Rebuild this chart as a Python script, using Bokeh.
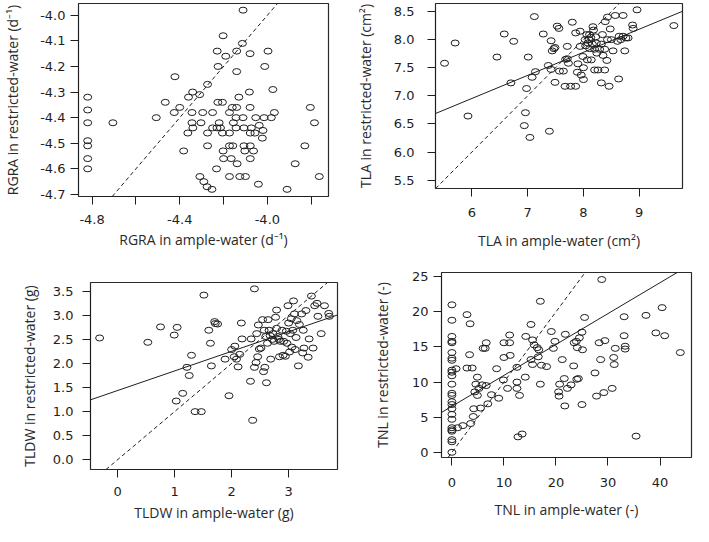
from bokeh.plotting import figure
from bokeh.models import Range1d, FixedTicker, PrintfTickFormatter, Slope
from bokeh.layouts import column, row
from bokeh.embed import file_html
from bokeh.resources import INLINE

# ---------------- data ----------------
rgra_ample = [-4.82, -4.82, -4.82, -4.82, -4.82, -4.82, -4.82,
              -4.705, -4.507, -4.466, -4.422, -4.425, -4.40, -4.382, -4.363, -4.36, -4.341,
              -4.344, -4.344, -4.34, -4.309, -4.303, -4.295, -4.308, -4.29, -4.275, -4.253,
              -4.273, -4.273, -4.273, -4.25, -4.25, -4.232, -4.229, -4.226, -4.225, -4.23,
              -4.22, -4.214, -4.205, -4.205, -4.202, -4.202, -4.20, -4.19, -4.173, -4.173,
              -4.173, -4.173, -4.158, -4.165, -4.16, -4.155, -4.143, -4.143, -4.14, -4.14,
              -4.14, -4.138, -4.13, -4.126, -4.114, -4.111, -4.111, -4.107, -4.107, -4.103,
              -4.10, -4.082, -4.079, -4.079, -4.078, -4.078, -4.078, -4.073, -4.063, -4.056,
              -4.041, -4.053, -4.037, -4.023, -4.015, -4.012, -3.997, -3.982, -3.975, -3.968,
              -4.02, -3.91, -3.873, -3.829, -3.804, -3.785, -3.763]
rgra_restricted = [-4.32, -4.37, -4.42, -4.49, -4.51, -4.56, -4.60,
                   -4.42, -4.40, -4.34, -4.24, -4.38, -4.36, -4.53, -4.46, -4.32, -4.30,
                   -4.38, -4.42, -4.44, -4.31, -4.42, -4.38, -4.63, -4.65, -4.67, -4.68,
                   -4.27, -4.46, -4.51, -4.38, -4.44, -4.60, -4.14, -4.34, -4.20, -4.44,
                   -4.42, -4.44, -4.34, -4.46, -4.08, -4.53, -4.56, -4.16, -4.63, -4.38,
                   -4.46, -4.51, -4.51, -4.56, -4.36, -4.42, -4.44, -4.40, -4.14, -4.22,
                   -4.36, -4.58, -4.32, -4.63, -4.11, -3.98, -4.40, -4.44, -4.51, -4.53,
                   -4.63, -4.30, -4.15, -4.36, -4.46, -4.51, -4.56, -4.44, -4.53, -4.46,
                   -4.66, -4.40, -4.43, -4.48, -4.40, -4.20, -4.14, -4.40, -4.29, -4.38,
                   -4.45, -4.68, -4.58, -4.51, -4.36, -4.42, -4.63]

tla_ample = [5.51, 5.70, 5.93, 6.45, 6.58, 6.75, 6.70, 6.96, 6.94, 6.98,
             7.01, 7.04, 7.08, 7.12, 7.14, 7.28, 7.37, 7.39, 7.42, 7.42,
             7.44, 7.49, 7.47, 7.49, 7.53, 7.56, 7.57, 7.64, 7.68, 7.71,
             7.71, 7.67, 7.73, 7.77, 7.80, 7.86, 7.86, 7.90, 7.89, 7.94,
             7.94, 7.96, 7.99, 8.00, 8.00, 8.03, 8.04, 8.06, 8.07, 8.08,
             8.10, 8.11, 8.13, 8.14, 8.16, 8.17, 8.18, 8.20, 8.20, 8.22,
             8.23, 8.24, 8.26, 8.29, 8.32, 8.32, 8.34, 8.35, 8.38, 8.39,
             8.42, 8.43, 8.43, 8.46, 8.48, 8.50, 8.53, 8.57, 8.61, 8.63,
             8.64, 8.67, 8.71, 8.71, 8.74, 8.76, 8.80, 8.88, 8.89, 8.96,
             9.62, 8.38, 8.11]
tla_restricted = [7.58, 7.94, 6.64, 7.69, 8.10, 7.97, 7.23, 6.70, 6.47, 7.13,
                  7.69, 6.26, 7.33, 8.41, 7.43, 8.10, 7.54, 6.37, 7.98, 7.47,
                  7.80, 7.24, 7.84, 7.86, 8.24, 8.20, 7.44, 7.44, 7.65, 7.66,
                  7.88, 7.17, 7.58, 7.17, 8.31, 8.12, 7.17, 7.57, 7.42, 8.15,
                  7.88, 7.37, 7.70, 7.50, 7.29, 8.00, 7.89, 8.09, 7.64, 7.94,
                  8.00, 7.84, 8.04, 7.64, 7.92, 8.23, 8.17, 7.83, 7.46, 8.05,
                  7.94, 7.76, 7.46, 7.83, 7.92, 7.23, 8.09, 7.72, 7.46, 8.32,
                  7.63, 8.40, 8.00, 7.17, 8.19, 8.00, 7.80, 8.43, 7.97, 7.30,
                  8.06, 8.00, 8.43, 8.06, 7.80, 8.03, 8.03, 8.26, 8.20, 8.53,
                  8.25, 7.83, 8.09]

tldw_ample = [-0.314, 0.531, 0.754, 0.994, 1.046, 1.029, 1.143, 1.217, 1.257, 1.297,
              1.36, 1.469, 1.514, 1.60, 1.629, 1.646, 1.703, 1.714, 1.754, 1.886,
              1.954, 2.0, 2.057, 2.046, 2.086, 2.114, 2.143, 2.171, 2.183, 2.331,
              2.343, 2.371, 2.40, 2.40, 2.429, 2.44, 2.457, 2.469, 2.486, 2.514,
              2.543, 2.56, 2.571, 2.583, 2.60, 2.611, 2.629, 2.64, 2.657, 2.674,
              2.686, 2.714, 2.726, 2.743, 2.771, 2.789, 2.789, 2.811, 2.829, 2.84,
              2.857, 2.886, 2.903, 2.914, 2.943, 2.96, 2.971, 2.989, 3.0, 3.017,
              3.029, 3.046, 3.057, 3.074, 3.086, 3.103, 3.114, 3.131, 3.143, 3.171,
              3.189, 3.229, 3.246, 3.257, 3.269, 3.303, 3.343, 3.36, 3.40, 3.429,
              3.457, 3.497, 3.514, 3.571, 3.629, 3.703, 3.714]
tldw_restricted = [2.53, 2.44, 2.76, 2.59, 2.75, 1.22, 1.38, 1.92, 1.75, 2.17,
                   1.00, 1.00, 3.42, 2.69, 2.42, 1.95, 2.87, 2.83, 2.82, 2.09,
                   1.33, 2.29, 2.36, 2.14, 2.09, 1.93, 2.19, 2.84, 2.51, 1.63,
                   2.51, 0.82, 3.55, 1.92, 2.02, 2.62, 2.14, 2.80, 2.30, 2.32,
                   2.91, 1.83, 2.69, 1.92, 2.56, 1.60, 2.42, 2.91, 2.69, 2.58,
                   2.09, 2.50, 2.62, 2.46, 2.96, 3.11, 2.73, 2.56, 2.50, 2.14,
                   2.46, 2.69, 2.17, 2.46, 2.15, 2.67, 2.42, 3.20, 2.84, 2.24,
                   2.62, 2.93, 2.34, 2.69, 3.30, 3.03, 2.29, 2.54, 2.89, 1.95,
                   2.81, 3.03, 2.22, 2.69, 2.32, 3.10, 2.13, 2.51, 3.40, 2.32,
                   3.20, 3.25, 2.98, 2.62, 3.20, 3.04, 2.98]

tnl_ample = [0.0, 0.0, 0.0, 0.0, 0.0, 0.0, 0.0, 0.0, 0.0, 0.0,
             0.0, 0.0, 0.0, 0.0, 0.0, 0.0, 0.0, 0.0, 0.0, 0.0,
             0.0, 0.0, 0.0, 0.0, 0.0,
             0.8, 1.1, 2.1, 2.9, 2.9, 3.5, 3.4, 3.6, 3.9, 4.1,
             4.2, 4.4, 4.6, 4.9, 4.9, 5.2, 5.5, 5.8, 6.0, 6.4,
             6.6, 6.6, 6.9, 7.6, 8.6, 9.0, 9.9, 10.0, 10.0, 10.7,
             11.1, 11.2, 11.1, 12.5, 12.5, 12.5, 12.7, 13.0, 13.5, 14.1,
             14.2, 15.2, 15.2, 15.5, 15.5, 15.8, 16.4, 16.6, 16.7, 17.0,
             17.0, 17.2, 18.2, 19.1, 19.5, 19.8, 20.5, 20.6, 20.7, 21.2,
             21.6, 21.7, 21.8, 22.2, 22.9, 23.4, 23.5, 23.9, 24.1, 24.0,
             24.3, 24.5, 25.0, 25.1, 25.0, 25.5, 27.5, 27.8, 28.3, 28.6,
             28.8, 29.2, 29.4, 30.8, 31.1, 31.2, 31.4, 33.1, 33.1, 33.3,
             33.3, 35.4, 37.3, 39.2, 40.4, 40.9, 43.9]
tnl_restricted = [21.0, 18.8, 16.5, 15.8, 15.6, 14.2, 13.4, 13.1, 11.7, 11.4,
                  10.9, 9.7, 8.4, 8.1, 7.2, 6.8, 6.2, 5.4, 4.7, 3.5,
                  3.2, 3.0, 1.8, 1.5, 0.0,
                  11.9, 3.5, 3.8, 19.6, 12.0, 18.3, 13.9, 4.1, 12.0, 5.1,
                  6.2, 8.6, 9.7, 10.7, 8.1, 9.1, 6.3, 9.6, 14.8, 14.8,
                  15.6, 9.5, 6.9, 8.2, 11.9, 7.7, 10.3, 15.6, 13.5, 9.1,
                  15.6, 13.8, 16.7, 12.1, 10.0, 9.1, 2.2, 8.1, 2.6, 10.7,
                  16.5, 18.2, 13.2, 16.0, 12.5, 15.3, 14.9, 13.6, 14.6, 9.7,
                  21.5, 12.4, 12.2, 17.2, 14.8, 15.8, 8.6, 8.0, 9.7, 13.2,
                  10.5, 6.6, 16.8, 9.1, 9.6, 12.3, 15.6, 15.8, 14.9, 10.4,
                  10.5, 16.3, 17.1, 14.6, 6.8, 19.2, 11.3, 8.0, 15.6, 13.2,
                  24.6, 8.5, 15.9, 9.1, 13.5, 12.5, 14.8, 19.3, 16.6, 15.1,
                  14.7, 2.3, 19.5, 17.0, 20.6, 16.6, 14.2]

# regression fits (slope, intercept)
tla_fit = (0.411, 4.487)
tldw_fit = (0.407, 1.438)
tnl_fit = (0.44, 6.55)

# ticks
rgra_xticks = [-4.8, -4.6, -4.4, -4.2, -4.0, -3.8]
rgra_xhidden = [-4.6, -4.2, -3.8]
rgra_yticks = [-4.7, -4.6, -4.5, -4.4, -4.3, -4.2, -4.1, -4.0]
tla_xticks = [6, 7, 8, 9]
tla_yticks = [5.5, 6.0, 6.5, 7.0, 7.5, 8.0, 8.5]
tldw_xticks = [0, 1, 2, 3]
tldw_yticks = [0.0, 0.5, 1.0, 1.5, 2.0, 2.5, 3.0, 3.5]
tnl_xticks = [0, 10, 20, 30, 40]
tnl_yticks = [0, 5, 10, 15, 20, 25]

INK = "#1e1e1e"
TICK_FONT = "DejaVu Sans"
LABEL_FONT = "Open Sans"


def panel(width, height, borders, xr, yr, xticks, yticks, xfmt, yfmt,
          xlabel, ylabel, xstand, ystand, xs, ys, fit=None, xhidden=None):
    left, right, top, bottom = borders
    p = figure(width=width, height=height, output_backend="svg",
               toolbar_location=None,
               x_range=Range1d(*xr), y_range=Range1d(*yr),
               min_border_left=left, min_border_right=right,
               min_border_top=top, min_border_bottom=bottom)
    p.frame_align = False
    p.xgrid.visible = False
    p.ygrid.visible = False
    p.outline_line_color = "#2a2a2a"
    p.outline_line_width = 1.2
    p.background_fill_color = "white"
    p.border_fill_color = "white"

    for ax, ticks, fmt, label, (mls, als) in (
            (p.xaxis[0], xticks, xfmt, xlabel, xstand),
            (p.yaxis[0], yticks, yfmt, ylabel, ystand)):
        ax.ticker = FixedTicker(ticks=ticks, minor_ticks=[])
        ax.formatter = PrintfTickFormatter(format=fmt)
        ax.bounds = (ticks[0], ticks[-1])
        ax.axis_line_color = INK
        ax.major_tick_line_color = INK
        ax.major_tick_out = 8
        ax.major_tick_in = 0
        ax.minor_tick_line_color = None
        ax.major_label_standoff = mls
        ax.major_label_text_font = TICK_FONT
        ax.major_label_text_font_size = "13px"
        ax.major_label_text_color = INK
        ax.axis_label = label
        ax.axis_label_standoff = als
        ax.axis_label_text_font = LABEL_FONT
        ax.axis_label_text_font_size = "14px"
        ax.axis_label_text_font_style = "normal"
        ax.axis_label_text_color = "#2a2a2a"
    p.yaxis[0].major_label_orientation = "horizontal"
    if xhidden:
        p.xaxis[0].major_label_overrides = {v: "" for v in xhidden}

    p.add_layout(Slope(gradient=1, y_intercept=0, line_color=INK,
                       line_width=1, line_dash="4 3"))
    if fit is not None:
        p.add_layout(Slope(gradient=fit[0], y_intercept=fit[1],
                           line_color=INK, line_width=1))

    p.ellipse(x=xs, y=ys, width=8, height=6, width_units="screen",
              height_units="screen", fill_color=None, line_color=INK,
              line_width=1)
    return p


p1 = panel(345, 264, (74, 17, 3, 68), (-4.862, -3.721), (-4.708, -3.954),
           rgra_xticks, rgra_yticks, "%.1f", "%.1f",
           "RGRA in ample-water (d\u207b\u00b9)",
           "RGRA in restricted-water (d\u207b\u00b9)",
           (10, 3), (5, 15), rgra_ample, rgra_restricted,
           xhidden=rgra_xhidden)

p2 = panel(348, 264, (90, 11, 3, 76), (5.348, 9.775), (5.351, 8.643),
           tla_xticks, tla_yticks, "%d", "%.1f",
           "TLA in ample-water (cm\u00b2)",
           "TLA in restricted-water (cm\u00b2)",
           (11, 11), (13, 16), tla_ample, tla_restricted, fit=tla_fit)

p3 = panel(345, 262, (90, 8, 18, 57), (-0.474, 3.857), (-0.202, 3.682),
           tldw_xticks, tldw_yticks, "%d", "%.1f",
           "TLDW in ample-water (g)",
           "TLDW in restricted-water (g)",
           (9, 4), (9, 11), tldw_ample, tldw_restricted, fit=tldw_fit)

p4 = panel(348, 262, (96, 2, 8, 69), (-2.0, 46.05), (-0.74, 25.6),
           tnl_xticks, tnl_yticks, "%d", "%d",
           "TNL in ample-water (-)",
           "TNL in restricted-water (-)",
           (12, 10), (5, 17), tnl_ample, tnl_restricted, fit=tnl_fit)

layout = column(row(p1, p2), row(p3, p4))

open("out.html", "w").write(file_html(layout, INLINE))
